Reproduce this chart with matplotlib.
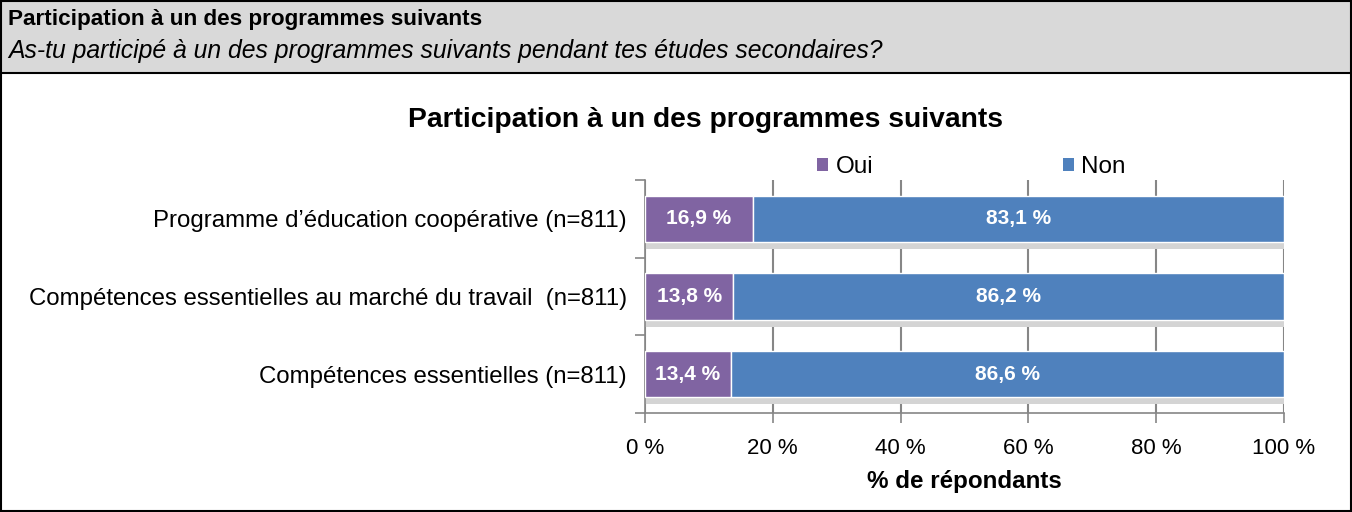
import matplotlib
matplotlib.use("Agg")
import matplotlib.pyplot as plt
from matplotlib.patches import Rectangle, Patch
from matplotlib.lines import Line2D

categories = ["Programme d\u2019éducation coopérative (n=811)",
              "Compétences essentielles au marché du travail  (n=811)",
              "Compétences essentielles (n=811)"]
oui = [16.9, 13.8, 13.4]
non = [83.1, 86.2, 86.6]
series_names = ["Oui", "Non"]
xticks = [0, 20, 40, 60, 80, 100]
xtick_labels = ["0 %", "20 %", "40 %", "60 %", "80 %", "100 %"]

header_title = "Participation à un des programmes suivants"
header_sub = "As-tu participé à un des programmes suivants pendant tes études secondaires?"
chart_title = "Participation à un des programmes suivants"
xlabel = "% de répondants"

C_OUI = "#8064a2"
C_NON = "#4f81bd"

plt.rcParams['font.family'] = ['Liberation Sans', 'DejaVu Sans']

W, H = 1352, 512
fig = plt.figure(figsize=(W / 100, H / 100), dpi=100)

def fx(px):
    return px / W

def fy(py):
    return 1 - py / H

# header band
fig.patches.append(Rectangle((0, fy(73)), 1, 73 / H, transform=fig.transFigure,
                             facecolor="#d9d9d9", edgecolor="none", zorder=0))
fig.add_artist(Line2D([0, 1], [fy(73), fy(73)], transform=fig.transFigure, color="black", lw=1.5))
fig.patches.append(Rectangle((fx(1), fy(511)), 1 - fx(2), 1 - 2 / H, transform=fig.transFigure,
                             facecolor="none", edgecolor="black", lw=1.5, zorder=5))

fig.text(fx(8), fy(20), header_title, fontsize=16.2, fontweight="bold", va="center", ha="left")
fig.text(fx(8), fy(51), header_sub, fontsize=17.8, fontstyle="italic", va="center", ha="left")

ax = fig.add_axes([fx(645), fy(413), fx(1284) - fx(645), (413 - 180) / H])

y = list(range(len(categories)))
bh = 0.6
# shadows
ax.barh([v + bh / 2 + 0.045 for v in y], [o + n for o, n in zip(oui, non)], height=0.09,
        color="#d4d4d4", edgecolor="none", zorder=2)
ax.barh(y, oui, height=bh, color=C_OUI, edgecolor="white", lw=1, zorder=3, label=series_names[0])
ax.barh(y, non, left=oui, height=bh, color=C_NON, edgecolor="white", lw=1, zorder=3, label=series_names[1])

for i in y:
    ax.text(oui[i] / 2, i, f"{oui[i]:.1f} %".replace(".", ","), color="white", fontweight="bold",
            fontsize=15, ha="center", va="center", zorder=4)
    ax.text(oui[i] + non[i] / 2, i, f"{non[i]:.1f} %".replace(".", ","), color="white", fontweight="bold",
            fontsize=15, ha="center", va="center", zorder=4)

ax.set_xlim(0, 100)
ax.set_ylim(len(categories) - 0.5, -0.5)
ax.set_xticks(xticks)
ax.set_xticklabels(xtick_labels, fontsize=16)
ax.set_yticks(y)
ax.set_yticklabels(categories, fontsize=17.3)
ax.set_yticks([-0.5, 0.5, 1.5, 2.5], minor=True)
ax.tick_params(axis="y", which="major", length=0, pad=13)
ax.tick_params(axis="y", which="minor", length=7, color="#868686", width=1.2)
ax.tick_params(axis="x", length=7, color="#868686", width=1.2, pad=11)
ax.grid(axis="x", color="#868686", lw=1.5, zorder=1)
ax.set_axisbelow(True)
for s in ["top", "right"]:
    ax.spines[s].set_visible(False)
for s in ["left", "bottom"]:
    ax.spines[s].set_color("#868686")
    ax.spines[s].set_linewidth(1.2)
ax.set_xlabel(xlabel, fontsize=17.4, fontweight="bold", labelpad=8)

handles = [Patch(facecolor=C_OUI), Patch(facecolor=C_NON)]
ax.legend(handles, series_names, ncol=2, loc="center", bbox_to_anchor=(0.511, 1.055),
          frameon=False, fontsize=17.5, handlelength=0.45, handleheight=0.45, handletextpad=0.3,
          columnspacing=7.8, borderaxespad=0, borderpad=0)

fig.text(fx(706), fy(120), chart_title, fontsize=20.3, fontweight="bold", ha="center", va="center")

fig.savefig("out.png", dpi=100)
